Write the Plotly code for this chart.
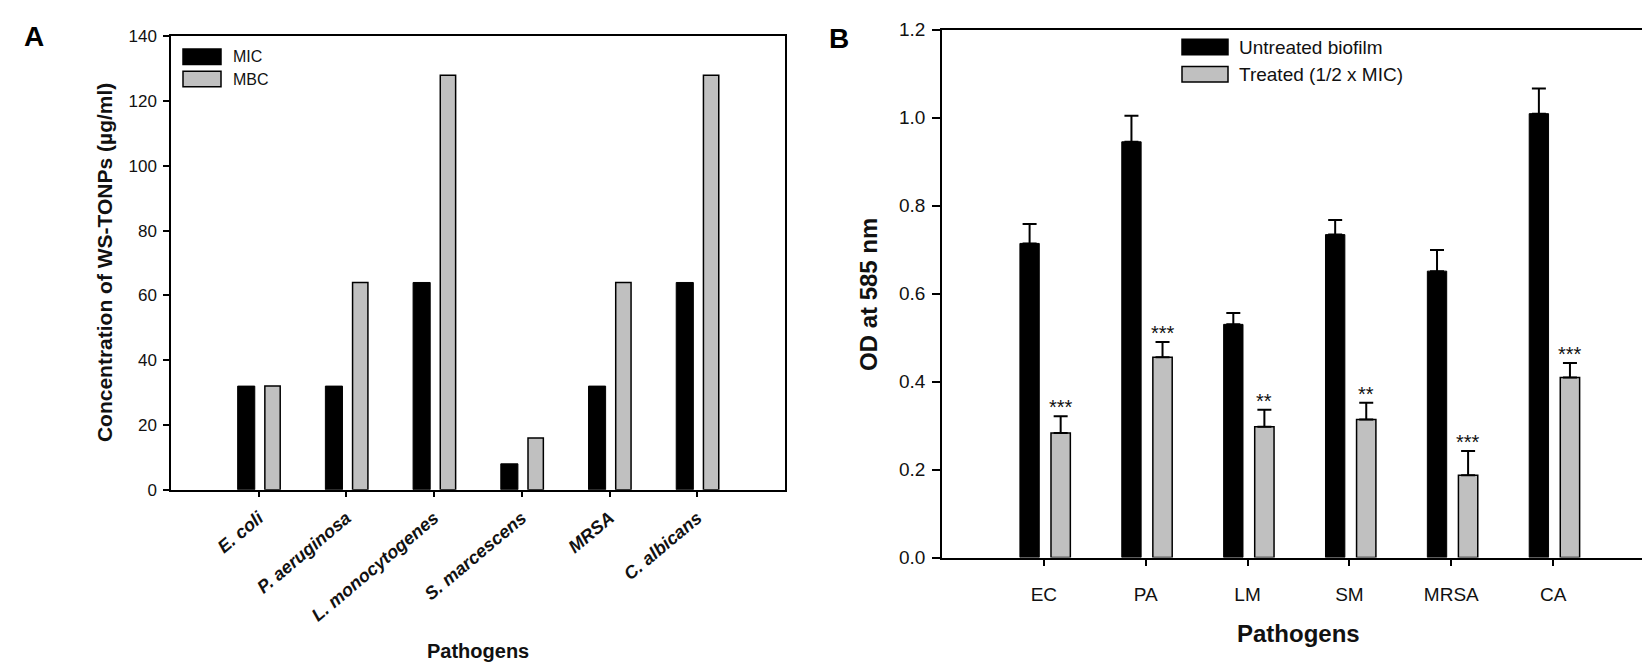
import plotly.graph_objects as go

# Panel A: MIC / MBC of WS-TONPs
pathogens_a = ["E. coli", "P. aeruginosa", "L. monocytogenes", "S. marcescens", "MRSA", "C. albicans"]
mic = [32, 32, 64, 8, 32, 64]
mbc = [32, 64, 128, 16, 64, 128]

# Panel B: biofilm OD at 585 nm
pathogens_b = ["EC", "PA", "LM", "SM", "MRSA", "CA"]
untreated = [0.714, 0.945, 0.530, 0.734, 0.651, 1.009]
untreated_err = [0.044, 0.059, 0.026, 0.033, 0.048, 0.057]
treated = [0.283, 0.455, 0.297, 0.314, 0.187, 0.409]
treated_err = [0.038, 0.035, 0.039, 0.038, 0.055, 0.033]
stars = ["***", "***", "**", "**", "***", "***"]

FONT = "Liberation Sans"
TXT = "#111111"
GRAY = "#c0c0c0"
W, H = 1650, 669


def px(x):
    return x / W


def py(y):
    return 1 - y / H


tick_a = ["<b><i>%s</i></b>" % p for p in pathogens_a]

fig = go.Figure()

# panel A bars
fig.add_trace(go.Bar(
    x=pathogens_a, y=mic, name="MIC", xaxis="x", yaxis="y",
    marker=dict(color="black", line=dict(color="black", width=1)),
    width=0.195, offset=-0.24, showlegend=False,
))
fig.add_trace(go.Bar(
    x=pathogens_a, y=mbc, name="MBC", xaxis="x", yaxis="y",
    marker=dict(color=GRAY, line=dict(color="black", width=1.5)),
    width=0.175, offset=0.07, showlegend=False,
))

# panel B bars with upward error bars
fig.add_trace(go.Bar(
    x=pathogens_b, y=untreated, name="Untreated biofilm", xaxis="x2", yaxis="y2",
    marker=dict(color="black", line=dict(color="black", width=1)),
    width=0.19, offset=-0.235, showlegend=False,
    error_y=dict(type="data", array=untreated_err, arrayminus=[0] * len(untreated_err),
                 symmetric=False, color="black", thickness=2, width=7),
))
fig.add_trace(go.Bar(
    x=pathogens_b, y=treated, name="Treated (1/2 x MIC)", xaxis="x2", yaxis="y2",
    marker=dict(color=GRAY, line=dict(color="black", width=1.5)),
    width=0.19, offset=0.07, showlegend=False,
    error_y=dict(type="data", array=treated_err, arrayminus=[0] * len(treated_err),
                 symmetric=False, color="black", thickness=2, width=7),
))

annotations = []
# significance stars above treated bars
for i, s in enumerate(stars):
    annotations.append(dict(
        x=i + 0.165, y=treated[i] + treated_err[i], xref="x2", yref="y2",
        text=s, showarrow=False, xanchor="center", yanchor="bottom", yshift=-4,
        font=dict(family=FONT, size=20, color=TXT),
    ))


def label(x, y, text, size, angle=0, color=TXT, xanchor="center"):
    return dict(x=px(x), y=py(y), xref="paper", yref="paper", text=text,
                textangle=angle, showarrow=False, xanchor=xanchor, yanchor="middle",
                font=dict(family=FONT, size=size, color=color))


# panel letters and axis titles
annotations += [
    label(26, 19, "<b>A</b>", 28, color="black"),
    label(831, 21, "<b>B</b>", 28, color="black"),
    label(96, 253, "<b>Concentration of WS-TONPs (µg/ml)</b>", 21, angle=-90),
    label(470, 653, "<b>Pathogens</b>", 20),
    label(860, 286, "<b>OD at 585 nm</b>", 24, angle=-90),
    label(1290, 635, "<b>Pathogens</b>", 24),
]

# legends drawn as wide swatches like the original figure
legend_a = [("MIC", "black", 40), ("MBC", GRAY, 63)]
legend_b = [("Untreated biofilm", "black", 30), ("Treated (1/2 x MIC)", GRAY, 58)]
shapes = []
for name, col, yc in legend_a:
    shapes.append(dict(type="rect", xref="paper", yref="paper",
                       x0=px(175), x1=px(213), y0=py(yc + 8), y1=py(yc - 8),
                       fillcolor=col, line=dict(color="black", width=1.5)))
    annotations.append(label(223, yc, name, 16, xanchor="left"))
for name, col, yc in legend_b:
    shapes.append(dict(type="rect", xref="paper", yref="paper",
                       x0=px(1174), x1=px(1220), y0=py(yc + 8), y1=py(yc - 8),
                       fillcolor=col, line=dict(color="black", width=1.5)))
    annotations.append(label(1229, yc, name, 19, xanchor="left"))

axis_common = dict(showline=True, linecolor="black", linewidth=1.5, mirror=True,
                   ticks="outside", tickcolor="black", tickwidth=1.5, showgrid=False,
                   zeroline=False)

fig.update_layout(
    width=W, height=H,
    margin=dict(l=0, r=0, t=0, b=0),
    paper_bgcolor="white", plot_bgcolor="white",
    barmode="overlay",
    font=dict(family=FONT, color=TXT),
    xaxis=dict(domain=[px(163), px(777)], anchor="y", range=[-1, 6],
               tickmode="array", tickvals=pathogens_a, ticktext=tick_a,
               tickangle=-40, ticklen=6, ticklabelstandoff=3,
               tickfont=dict(size=18), **axis_common),
    yaxis=dict(domain=[py(487), py(19)], anchor="x", range=[0, 140],
               dtick=20, ticklen=6, ticklabelstandoff=3, tickfont=dict(size=17), **axis_common),
    xaxis2=dict(domain=[px(934), px(1647)], anchor="y2", range=[-1, 6],
                ticklen=7, ticklabelstandoff=12, tickfont=dict(size=19), **axis_common),
    yaxis2=dict(domain=[py(557), py(12)], anchor="x2", range=[0, 1.2],
                dtick=0.2, tickformat=".1f", ticklen=8, ticklabelstandoff=3,
                tickfont=dict(size=19), **axis_common),
    annotations=annotations,
    shapes=shapes,
    showlegend=False,
)

fig.write_html("out.html")
